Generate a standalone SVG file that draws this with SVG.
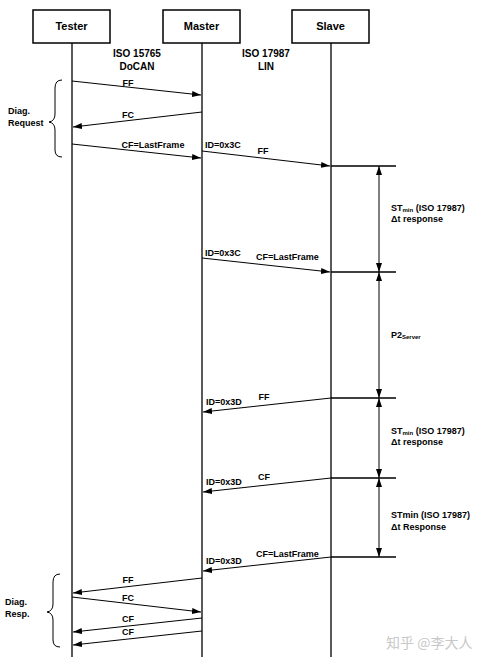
<svg xmlns="http://www.w3.org/2000/svg" width="490" height="662" viewBox="0 0 490 662">
<style>
.box{fill:#fff;stroke:#000;stroke-width:1.5}
.life{stroke:#000;stroke-width:1.3;fill:none}
.msg{stroke:#000;stroke-width:1;fill:none;marker-end:url(#ah)}
.tick{stroke:#000;stroke-width:1.3}
.dim{stroke:#000;stroke-width:1;marker-start:url(#ah2);marker-end:url(#ah)}
.brace{stroke:#000;stroke-width:1;fill:none}
text{font-family:"Liberation Sans",Arial,sans-serif;font-weight:bold;font-size:9px;fill:#000}
.h{font-size:11px}
.big{font-size:10px}
.wm{font-family:"Noto Sans CJK SC",sans-serif;font-weight:normal;font-size:14px;fill:#c8c8c8}
</style>
<defs>
<marker id="ah" markerWidth="9" markerHeight="6" refX="9" refY="3" orient="auto" markerUnits="userSpaceOnUse"><path d="M0,0 L9,3 L0,6 z" fill="#000"/></marker>
<marker id="ah2" markerWidth="9" markerHeight="6" refX="0" refY="3" orient="auto" markerUnits="userSpaceOnUse"><path d="M9,0 L0,3 L9,6 z" fill="#000"/></marker>
</defs>
<rect width="490" height="662" fill="#fff"/>
<g id="tester"><rect class="box" x="33" y="10" width="77" height="33"/><text class="h" x="71.5" y="30" text-anchor="middle">Tester</text><line class="life" x1="72" y1="43" x2="72" y2="657"/></g>
<g id="master"><rect class="box" x="163" y="10" width="77" height="33"/><text class="h" x="201.5" y="30" text-anchor="middle">Master</text><line class="life" x1="202" y1="43" x2="202" y2="657"/></g>
<g id="slave"><rect class="box" x="292" y="10" width="77" height="33"/><text class="h" x="330.5" y="30" text-anchor="middle">Slave</text><line class="life" x1="331" y1="43" x2="331" y2="657"/></g>
<g id="protocols">
<text class="big" x="137" y="57" text-anchor="middle">ISO 15765</text>
<text class="big" x="137" y="70" text-anchor="middle">DoCAN</text>
<text class="big" x="266" y="57" text-anchor="middle">ISO 17987</text>
<text class="big" x="266" y="70" text-anchor="middle">LIN</text>
</g>
<g id="braces">
<path class="brace" d="M62,80 Q55,80 55,88 L55,114 Q55,121 49,122 Q55,123 55,130 L55,150 Q55,157 62,157"/>
<text x="8" y="114">Diag.</text><text x="8" y="126">Request</text>
<path class="brace" d="M60,574 Q53,574 53,582 L53,604 Q53,611 47,612 Q53,613 53,620 L53,640 Q53,647 60,647"/>
<text x="5" y="605">Diag.</text><text x="5" y="617">Resp.</text>
</g>
<g id="connectors">
<line class="msg" x1="72" y1="81" x2="201" y2="95"/>
<line class="msg" x1="202" y1="112" x2="73" y2="127"/>
<line class="msg" x1="72" y1="144" x2="201" y2="158"/>
<line class="msg" x1="202" y1="151" x2="330" y2="166"/>
<line class="msg" x1="202" y1="258" x2="330" y2="272"/>
<line class="msg" x1="331" y1="398" x2="203" y2="412"/>
<line class="msg" x1="331" y1="478" x2="203" y2="492"/>
<line class="msg" x1="331" y1="557" x2="203" y2="571"/>
<line class="msg" x1="202" y1="578" x2="73" y2="593"/>
<line class="msg" x1="72" y1="597" x2="201" y2="612"/>
<line class="msg" x1="202" y1="618" x2="73" y2="632"/>
<line class="msg" x1="202" y1="631" x2="73" y2="645"/>
<line class="tick" x1="331" y1="166" x2="396" y2="166"/>
<line class="tick" x1="331" y1="272" x2="396" y2="272"/>
<line class="tick" x1="331" y1="398" x2="396" y2="398"/>
<line class="tick" x1="331" y1="478" x2="396" y2="478"/>
<line class="tick" x1="331" y1="557" x2="396" y2="557"/>
<line class="dim" x1="379" y1="166" x2="379" y2="272"/>
<line class="dim" x1="379" y1="272" x2="379" y2="398"/>
<line class="dim" x1="379" y1="398" x2="379" y2="478"/>
<line class="dim" x1="379" y1="478" x2="379" y2="557"/>
</g>
<g id="labels">
<text x="128" y="86" text-anchor="middle">FF</text>
<text x="128" y="118" text-anchor="middle">FC</text>
<text x="153" y="148" text-anchor="middle">CF=LastFrame</text>
<text x="205" y="148">ID=0x3C</text>
<text x="263" y="154" text-anchor="middle">FF</text>
<text x="205" y="256">ID=0x3C</text>
<text x="256" y="260">CF=LastFrame</text>
<text x="206" y="405">ID=0x3D</text>
<text x="264" y="400" text-anchor="middle">FF</text>
<text x="206" y="485">ID=0x3D</text>
<text x="264" y="480" text-anchor="middle">CF</text>
<text x="206" y="564">ID=0x3D</text>
<text x="256" y="557">CF=LastFrame</text>
<text x="128" y="583" text-anchor="middle">FF</text>
<text x="128" y="601" text-anchor="middle">FC</text>
<text x="128" y="622" text-anchor="middle">CF</text>
<text x="128" y="635" text-anchor="middle">CF</text>
<text x="391" y="211">ST<tspan font-size="6" dy="1">min</tspan><tspan dy="-1"> (ISO 17987)</tspan></text>
<text x="391" y="222">Δt response</text>
<text x="391" y="338">P2<tspan font-size="6" dy="1">Server</tspan></text>
<text x="391" y="434">ST<tspan font-size="6" dy="1">min</tspan><tspan dy="-1"> (ISO 17987)</tspan></text>
<text x="391" y="445">Δt response</text>
<text x="391" y="518">STmin (ISO 17987)</text>
<text x="391" y="530">Δt Response</text>
</g>
<text class="wm" x="386" y="648">知乎 @李大人</text>
</svg>
